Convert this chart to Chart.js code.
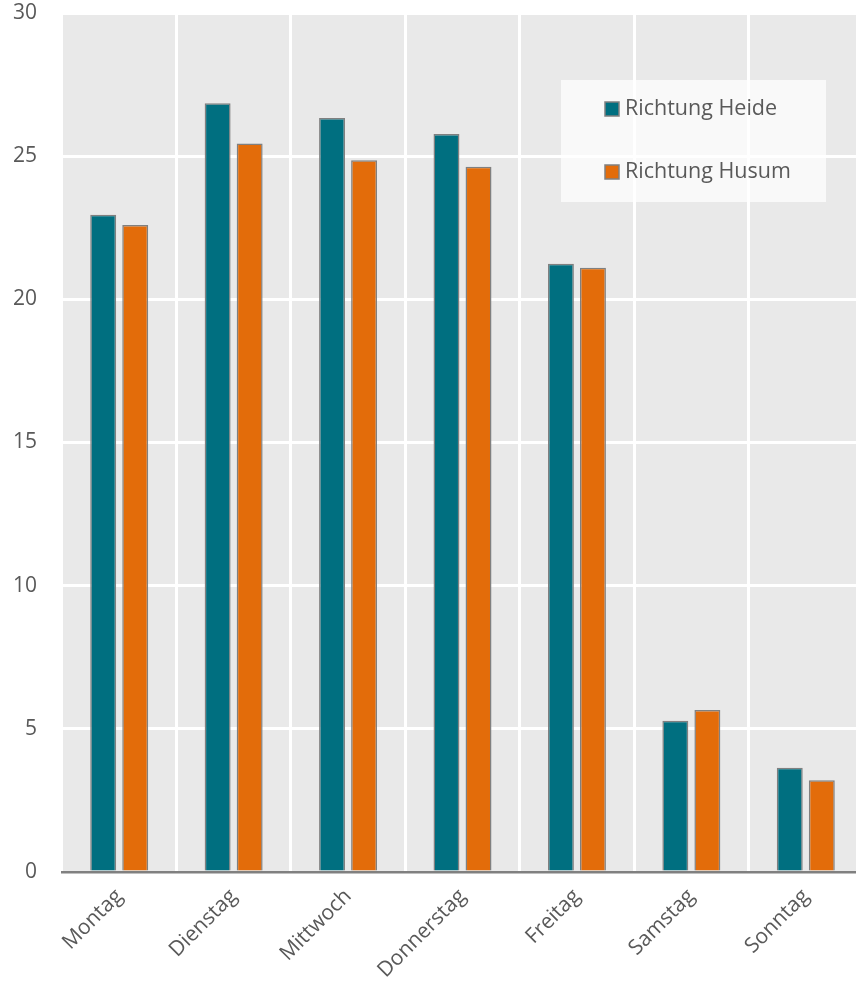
<!DOCTYPE html>
<html>
<head>
<meta charset="utf-8">
<script src="https://cdn.jsdelivr.net/npm/chart.js@4/dist/chart.umd.min.js"></script>
<style>
  html, body { margin: 0; padding: 0; background: #fff; overflow: hidden; }
  /* the plot runs a few pixels past the right edge, as in the reference */
  #wrap { width: 856px; height: 986px; overflow: hidden; }
</style>
</head>
<body>
<div id="wrap"><canvas id="chart" width="863" height="986"></canvas></div>
<script>
// data
const days = ['Montag', 'Dienstag', 'Mittwoch', 'Donnerstag', 'Freitag', 'Samstag', 'Sonntag'];
const heide = [22.95, 26.85, 26.33, 25.77, 21.24, 5.28, 3.64];
const husum = [22.6, 25.44, 24.86, 24.63, 21.1, 5.66, 3.2];
const yTicks = [0, 5, 10, 15, 20, 25, 30];

const textColor = '#595959';
const fontFamily = '"Open Sans", "DejaVu Sans", sans-serif';

// grey plot background + legend box drawn behind the grid, legend text on top
const plotBg = {
  id: 'plotBg',
  beforeDraw(chart) {
    const { ctx, chartArea: a } = chart;
    ctx.save();
    ctx.fillStyle = '#e9e9e9';
    ctx.fillRect(a.left, a.top, a.right - a.left, a.bottom - a.top);
    ctx.fillStyle = 'rgba(255,255,255,0.72)';
    ctx.fillRect(561, 80, 265, 122);
    ctx.restore();
  },
  afterDraw(chart) {
    const { ctx } = chart;
    ctx.save();
    ctx.font = '21.5px ' + fontFamily;
    ctx.textBaseline = 'middle';
    chart.data.datasets.forEach((ds, i) => {
      const y = 109 + i * 63;
      ctx.fillStyle = ds.backgroundColor;
      ctx.strokeStyle = '#808080';
      ctx.lineWidth = 1.5;
      ctx.fillRect(605, y - 7, 14, 14);
      ctx.strokeRect(605, y - 7, 14, 14);
      ctx.fillStyle = textColor;
      ctx.fillText(ds.label, 625, y);
    });
    ctx.restore();
  }
};

new Chart(document.getElementById('chart'), {
  type: 'bar',
  data: {
    labels: days,
    datasets: [
      { label: 'Richtung Heide', data: heide, backgroundColor: '#006f80', borderColor: '#808080', borderWidth: 1.5 },
      { label: 'Richtung Husum', data: husum, backgroundColor: '#e36c0a', borderColor: '#808080', borderWidth: 1.5 }
    ]
  },
  options: {
    responsive: false,
    animation: false,
    categoryPercentage: 0.56,
    barPercentage: 0.81,
    layout: { padding: { top: 13, right: 0, left: 0, bottom: 0 } },
    plugins: {
      legend: { display: false },
      tooltip: { enabled: false }
    },
    scales: {
      x: {
        grid: { color: '#ffffff', lineWidth: 3, drawTicks: false, offset: true },
        border: { color: '#808080', width: 2.5 },
        ticks: {
          color: textColor,
          font: { family: fontFamily, size: 21 },
          maxRotation: 45,
          minRotation: 45,
          padding: 12
        },
        afterFit(scale) {
          scale.height = 114;
          scale.paddingLeft = 0;
          scale.paddingRight = 0;
        }
      },
      y: {
        min: 0,
        max: 30,
        afterBuildTicks(scale) { scale.ticks = yTicks.map(v => ({ value: v })); },
        grid: { color: '#ffffff', lineWidth: 3, drawTicks: false },
        border: { display: false },
        ticks: {
          color: textColor,
          font: { family: fontFamily, size: 21 },
          padding: 25
        },
        afterFit(scale) {
          scale.width = 62;
          scale.paddingTop = 0;
          scale.paddingBottom = 0;
        }
      }
    }
  },
  plugins: [plotBg]
});
</script>
</body>
</html>
